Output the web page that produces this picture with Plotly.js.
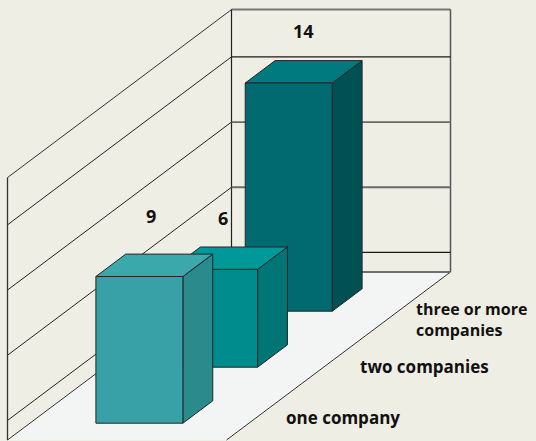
<!DOCTYPE html>
<html>
<head>
<meta charset="utf-8">
<script src="https://cdn.plot.ly/plotly-3.0.1.min.js"></script>
<style>html,body{margin:0;padding:0;background:#efeee4;}#chart{width:536px;height:441px;}</style>
</head>
<body>
<div id="chart"></div>
<script>
// ---- data ----
const categories = ['one company', 'two companies', 'three or more<br>companies'];
const values = [9, 6, 14];
const valueLabels = ['9', '6', '14'];
const gridValues = [1.2, 5.2, 9.2, 13.2];
const wallTop = 16.1;

// ---- colours ----
const frontColors = ['#38a1a7', '#008c8c', '#006a70'];
const topColors = ['#3ba8ac', '#009898', '#007a7e'];
const sideColors = ['#2a8a8c', '#007575', '#005054'];

// ---- projection (oblique) ----
const K = 16.3;              // px per value unit
const ORIGIN_X = 7.5;        // left of front floor edge (x axis units = px)
const FLOOR_W = 219;         // floor width
const NSLOT = categories.length;
const SLOT_DX = 224 / NSLOT; // horizontal depth shift per slot
const SLOT_DY = (168 / K) / NSLOT; // vertical depth shift per slot (value units)
const BAR_W = 87;
const BAR_U0 = (FLOOR_W - BAR_W) / 2;
const BAR_D = 0.4;           // bar depth as a fraction of a slot

function P(u, s, v) { return [ORIGIN_X + u + s * SLOT_DX, s * SLOT_DY + v]; }
function poly(pts, fill, lineColor, lineWidth) {
  const xs = pts.map(p => p[0]), ys = pts.map(p => p[1]);
  xs.push(xs[0]); ys.push(ys[0]);
  return {type: 'scatter', mode: 'lines', x: xs, y: ys, fill: 'toself', fillcolor: fill,
          line: {color: lineColor, width: lineWidth}, hoverinfo: 'skip', showlegend: false};
}
function seg(a, b, color, width) {
  return {type: 'scatter', mode: 'lines', x: [a[0], b[0]], y: [a[1], b[1]],
          line: {color: color, width: width}, hoverinfo: 'skip', showlegend: false};
}

const traces = [];
// floor
traces.push(poly([P(0,0,0), P(FLOOR_W,0,0), P(FLOOR_W,NSLOT,0), P(0,NSLOT,0)], '#f3f4f4', 'rgba(0,0,0,0)', 0));
traces.push(seg(P(FLOOR_W,0,0), P(FLOOR_W,NSLOT,0), '#333333', 1));
traces.push(seg(P(0,0,0), P(0,NSLOT,0), '#333333', 1));
traces.push(seg(P(0,NSLOT,0), P(FLOOR_W,NSLOT,0), '#6e6e6e', 2));
// back wall
traces.push(seg(P(0,NSLOT,wallTop), P(FLOOR_W,NSLOT,wallTop), '#777777', 2));
traces.push(seg(P(0,NSLOT,0), P(0,NSLOT,wallTop), '#222222', 1.2));
traces.push(seg(P(FLOOR_W,NSLOT,0), P(FLOOR_W,NSLOT,wallTop), '#555555', 1.5));
gridValues.forEach((g, i) => {
  const edge = (i === 0 || i === gridValues.length - 1);
  traces.push(seg(P(0,NSLOT,g), P(FLOOR_W,NSLOT,g), edge ? '#1a1a1a' : '#6a6a6a', edge ? 1.3 : 1.8));
  traces.push(seg(P(0,0,g), P(0,NSLOT,g), '#222222', 1));
});
// left wall
traces.push(seg(P(0,0,wallTop), P(0,NSLOT,wallTop), '#333333', 1));
traces.push(seg(P(0,0,0), P(0,0,wallTop), '#333333', 1.3));

// bars, back to front
for (let i = values.length - 1; i >= 0; i--) {
  const v = values[i];
  const s0 = i + 0.5 - BAR_D / 2, s1 = i + 0.5 + BAR_D / 2;
  const u0 = BAR_U0, u1 = BAR_U0 + BAR_W;
  traces.push(poly([P(u1,s0,0), P(u1,s1,0), P(u1,s1,v), P(u1,s0,v)], sideColors[i], '#262626', 1));
  traces.push(poly([P(u0,s0,v), P(u1,s0,v), P(u1,s1,v), P(u0,s1,v)], topColors[i], '#262626', 1));
  traces.push(poly([P(u0,s0,0), P(u1,s0,0), P(u1,s0,v), P(u0,s0,v)], frontColors[i], '#262626', 1));
}

const annotations = [];
const labelLift = [3.05, 2.48, 2.48];
const labelShiftX = [0, -3, 3];
values.forEach((v, i) => {
  const p = P(FLOOR_W / 2 - 3, i + 0.5, v + labelLift[i]);
  annotations.push({x: p[0], y: p[1], text: valueLabels[i], showarrow: false,
    xanchor: 'center', yanchor: 'middle', xshift: labelShiftX[i],
    font: {family: 'Open Sans', size: 18, color: '#111111', weight: 'bold'}});
});
const catShift = [[20, -5], [19, -10], [1, -19]];
const catSize = [17, 17, 16];
categories.forEach((c, i) => {
  const p = P(FLOOR_W, i + 0.5, 0);
  annotations.push({x: p[0], y: p[1], text: c, showarrow: false, align: 'left',
    xanchor: 'left', yanchor: 'middle', xshift: catShift[i][0], yshift: catShift[i][1],
    font: {family: 'Open Sans', size: catSize[i], color: '#111111', weight: 'bold'}});
});

const layout = {
  width: 536, height: 441,
  margin: {l: 0, r: 0, t: 0, b: 0, pad: 0},
  paper_bgcolor: '#efeee4', plot_bgcolor: '#efeee4',
  xaxis: {range: [0, 536], visible: false, fixedrange: true},
  yaxis: {range: [(440 - 441) / K, 440 / K], visible: false, fixedrange: true},
  showlegend: false,
  annotations: annotations
};
Plotly.newPlot('chart', traces, layout, {staticPlot: true, displayModeBar: false});
</script>
</body>
</html>
